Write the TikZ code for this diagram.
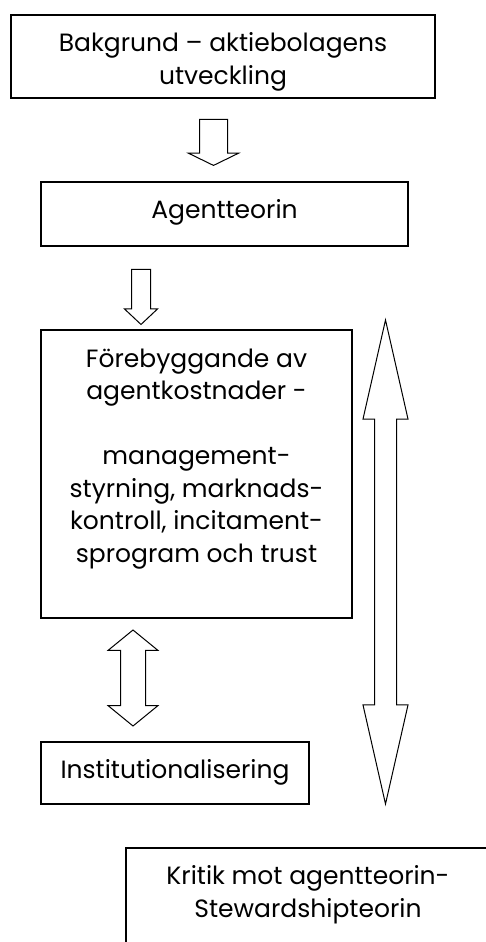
\documentclass[tikz,border=0pt]{standalone}
\usepackage{fontspec}
\setmainfont{Poppins}
\usetikzlibrary{positioning,shapes.arrows}
\begin{document}
\begin{tikzpicture}[x=1pt,y=-1pt,
                        ramme/.style={shape=rectangle,draw,line width=1.2pt,inner sep=0pt},
                        tekst/.style={align=center,inner sep=0pt,font=\fontsize{25}{32.5}\selectfont},
                        pil/.style={single arrow,draw,line width=1pt,single arrow head indent=0pt,rotate=-90},
                        dobbelpil/.style={double arrow,draw,line width=1pt,double arrow head indent=0pt,rotate=90}
                        ]
                        \useasboundingbox (0,0) rectangle (485,942);
                        %Bakgrund
                        \node [ramme,minimum width=424,minimum height=83] (bakgrund) at (223,56.5) {};
                        \node [tekst,below=18pt of bakgrund.north] (bakgrundtxt) {Bakgrund – aktiebolagens\\utveckling};
                        \node [pil,minimum height=46,minimum width=49,inner sep=13.5pt,single arrow head extend=11pt,single arrow tip angle=128] (pil1) at (213.5,139) {};
                        %Agentteorin
                        \node [ramme,minimum width=367,minimum height=64] (agentteorin) at (224.5,214) {};
                        \node [tekst,below=18pt of agentteorin.north] (agentteorintxt) {Agentteorin};
                        \node [pil,minimum height=55,minimum width=32,inner sep=9pt,single arrow head extend=7pt,single arrow tip angle=93.5] (pil2) at (141,292.5) {};
                        %Förebyggande av agentkostnader
                        \node [ramme,minimum width=311,minimum height=288] (forebyggande) at (196.5,474) {};
                        \node [tekst,below=19pt of forebyggande.north] (forebyggandetxt) {Förebyggande av\\agentkostnader -\\ \\management-\\styrning, marknads-\\kontroll, incitament-\\sprogram och trust};
                        \node [dobbelpil,minimum height=96,minimum width=49,inner sep=12pt,double arrow head extend=12.5pt,double arrow tip angle=101.5] (pil3) at (133,678) {};
                        \node [dobbelpil,minimum height=484,minimum width=44,inner sep=10.5pt,double arrow head extend=11.5pt,double arrow tip angle=25.6] (pil4) at (385.5,562) {};
                        %Institutionalisering
                        \node [ramme,minimum width=268,minimum height=62] (institution) at (175,773) {};
                        \node [tekst,below=18pt of institution.north] (institutiontxt) {Institutionalisering};
                        %Kritik mot agentteorin
                        \node [ramme,minimum width=364,minimum height=142] (kritik) at (308,919) {};
                        \node [tekst,below=18pt of kritik.north] (kritiktxt) {Kritik mot agentteorin-\\Stewardshipteorin};
                \end{tikzpicture}
\end{document}
